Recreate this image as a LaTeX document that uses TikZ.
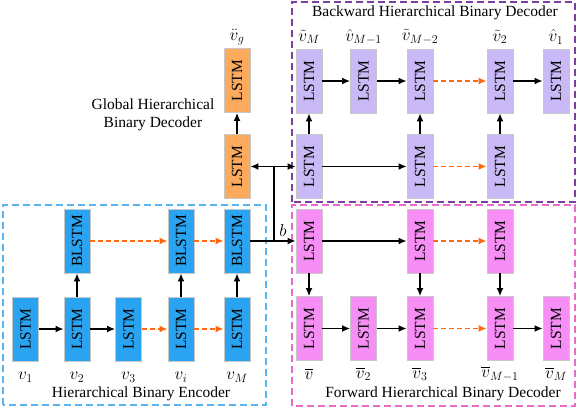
\documentclass[tikz,border=0pt]{standalone}
\usepackage{graphicx}
\usepackage{amsmath}
\usepackage{fontspec}
\setmainfont{Liberation Serif}
\usetikzlibrary{arrows,arrows.meta,calc,shapes,positioning}

\definecolor{encblue}{RGB}{42,164,240}
\definecolor{globorange}{RGB}{251,170,94}
\definecolor{bwpurple}{RGB}{201,186,247}
\definecolor{fwpink}{RGB}{246,142,245}
\definecolor{boxgray}{RGB}{200,200,200}
\definecolor{encframe}{RGB}{90,180,240}
\definecolor{bwframe}{RGB}{123,63,160}
\definecolor{fwframe}{RGB}{232,107,200}
\definecolor{dasharrow}{RGB}{255,106,16}

\newcommand{\lstm}{\rotatebox{90}{LSTM}}
\newcommand{\blstm}{\rotatebox{90}{BLSTM}}

\begin{document}
\begin{tikzpicture}
        [
            x=1pt, y=1pt,
            font=\fontsize{15.5}{18}\selectfont,
            tip/.style = {-{Latex[length=8pt,width=7pt]}},
            line/.style = {
                draw,
                line width=1.5pt,
                tip
            },
            dline/.style = {
                draw=dasharrow,
                line width=1.5pt,
                dash pattern=on 5pt off 3pt,
                tip
            },
            block/.style = {
                rectangle,
                draw=boxgray,
                line width=0.8pt,
                minimum width=26,
                minimum height=64,
                inner sep=0pt
            },
            encblock/.style = {block, fill=encblue},
            globblock/.style = {block, fill=globorange},
            bwblock/.style = {block, fill=bwpurple},
            fwblock/.style = {block, fill=fwpink},
            frame/.style = {
                line width=1.2pt,
                dash pattern=on 7pt off 4pt
            },
            vlabel/.style = {font=\fontsize{17}{18}\selectfont}
        ]

        \useasboundingbox (0,0) rectangle (578,412);

        % frames
        \draw[frame,draw=encframe] (3,7) rectangle (266,207);
        \draw[frame,draw=bwframe] (292,210) rectangle (575,410);
        \draw[frame,draw=fwframe] (292,6) rectangle (575,207);

        % encoder
        \node[encblock] (enc1) at (25.5,83) {\lstm};
        \node[encblock] (enc2) at (77,83) {\lstm};
        \node[encblock] (enc3) at (128.5,83) {\lstm};
        \node[encblock] (enc4) at (181,83) {\lstm};
        \node[encblock] (enc5) at (237,83) {\lstm};
        \node[encblock] (encb2) at (77,171) {\blstm};
        \node[encblock] (encb4) at (181,171) {\blstm};
        \node[encblock] (encb5) at (237,171) {\blstm};
        \node[vlabel] (v1) at (25.5,35) {$v_1$};
        \node[vlabel] (v2) at (77,35) {$v_2$};
        \node[vlabel] (v3) at (128.5,35) {$v_3$};
        \node[vlabel] (vi) at (181,35) {$v_i$};
        \node[vlabel] (vM) at (237,35) {$v_M$};
        \node (enctitle) at (141,18) {Hierarchical Binary Encoder};

        % global decoder
        \node[globblock] (glob1) at (237,245.5) {\lstm};
        \node[globblock] (glob2) at (237,331.5) {\lstm};
        \node[vlabel] (vg) at (237,375) {$\ddot{v}_g$};
        \node[align=center] (globtitle) at (153,297) {Global Hierarchical\\Binary Decoder};

        % backward decoder
        \node[bwblock] (bwt1) at (309,331) {\lstm};
        \node[bwblock] (bwt2) at (363.5,331) {\lstm};
        \node[bwblock] (bwt3) at (420,331) {\lstm};
        \node[bwblock] (bwt4) at (500,331) {\lstm};
        \node[bwblock] (bwt5) at (556,331) {\lstm};
        \node[bwblock] (bwb1) at (309,245.5) {\lstm};
        \node[bwblock] (bwb3) at (420,245.5) {\lstm};
        \node[bwblock] (bwb4) at (500,245.5) {\lstm};
        \node[vlabel] (bv1) at (309,375) {$\tilde{v}_M$};
        \node[vlabel] (bv2) at (363.5,375) {$\hat{v}_{M-1}$};
        \node[vlabel] (bv3) at (420,375) {$\tilde{v}_{M-2}$};
        \node[vlabel] (bv4) at (500,375) {$\tilde{v}_2$};
        \node[vlabel] (bv5) at (556,375) {$\hat{v}_1$};
        \node (bwtitle) at (435,399) {Backward Hierarchical Binary Decoder};

        % forward decoder
        \node[fwblock] (fwt1) at (309,171) {\lstm};
        \node[fwblock] (fwt3) at (420,171) {\lstm};
        \node[fwblock] (fwt4) at (500,171) {\lstm};
        \node[fwblock] (fwb1) at (309,83.5) {\lstm};
        \node[fwblock] (fwb2) at (363.5,83.5) {\lstm};
        \node[fwblock] (fwb3) at (420,83.5) {\lstm};
        \node[fwblock] (fwb4) at (500,83.5) {\lstm};
        \node[fwblock] (fwb5) at (556,83.5) {\lstm};
        \node[vlabel] (fv1) at (309,38) {$\overline{v}$};
        \node[vlabel] (fv2) at (363.5,38) {$\overline{v}_2$};
        \node[vlabel] (fv3) at (420,38) {$\overline{v}_3$};
        \node[vlabel] (fv4) at (500,38) {$\overline{v}_{M-1}$};
        \node[vlabel] (fv5) at (556,38) {$\overline{v}_M$};
        \node (fwtitle) at (443,18) {Forward Hierarchical Binary Decoder};

        % encoder connections
        \path[line] (enc1) -- (enc2);
        \path[line] (enc2) -- (enc3);
        \path[dline] (enc3) -- (enc4);
        \path[dline] (enc4) -- (enc5);
        \path[line] (enc2) -- (encb2);
        \path[line] (enc4) -- (encb4);
        \path[line] (enc5) -- (encb5);
        \path[dline] (encb2) -- (encb4);
        \path[dline] (encb4) -- (encb5);

        % code b to decoders
        \coordinate (junc) at (274,0);
        \path[line] (encb5.east) -- node[vlabel,above,pos=0.72] {$b$} (fwt1.west);
        \path[draw,line width=1.5pt,{Latex[length=8pt,width=7pt]}-{Latex[length=8pt,width=7pt]}] (glob1.east) -- (bwb1.west);
        \draw[line width=1.5pt] (junc |- glob1.east) -- (junc |- encb5.east);
        \path[line] (glob1) -- (glob2);

        % backward connections
        \path[line] (bwt1) -- (bwt2);
        \path[line] (bwt2) -- (bwt3);
        \path[dline] (bwt3) -- (bwt4);
        \path[line] (bwt4) -- (bwt5);
        \path[line] (bwb1) -- (bwb3);
        \path[dline] (bwb3) -- (bwb4);
        \path[line] (bwb1) -- (bwt1);
        \path[line] (bwb3) -- (bwt3);
        \path[line] (bwb4) -- (bwt4);

        % forward connections
        \path[line] (fwt1) -- (fwt3);
        \path[dline] (fwt3) -- (fwt4);
        \path[line] (fwt1) -- (fwb1);
        \path[line] (fwt3) -- (fwb3);
        \path[line] (fwt4) -- (fwb4);
        \path[line] (fwb1) -- (fwb2);
        \path[line] (fwb2) -- (fwb3);
        \path[dline] (fwb3) -- (fwb4);
        \path[line] (fwb4) -- (fwb5);
    \end{tikzpicture}
\end{document}
